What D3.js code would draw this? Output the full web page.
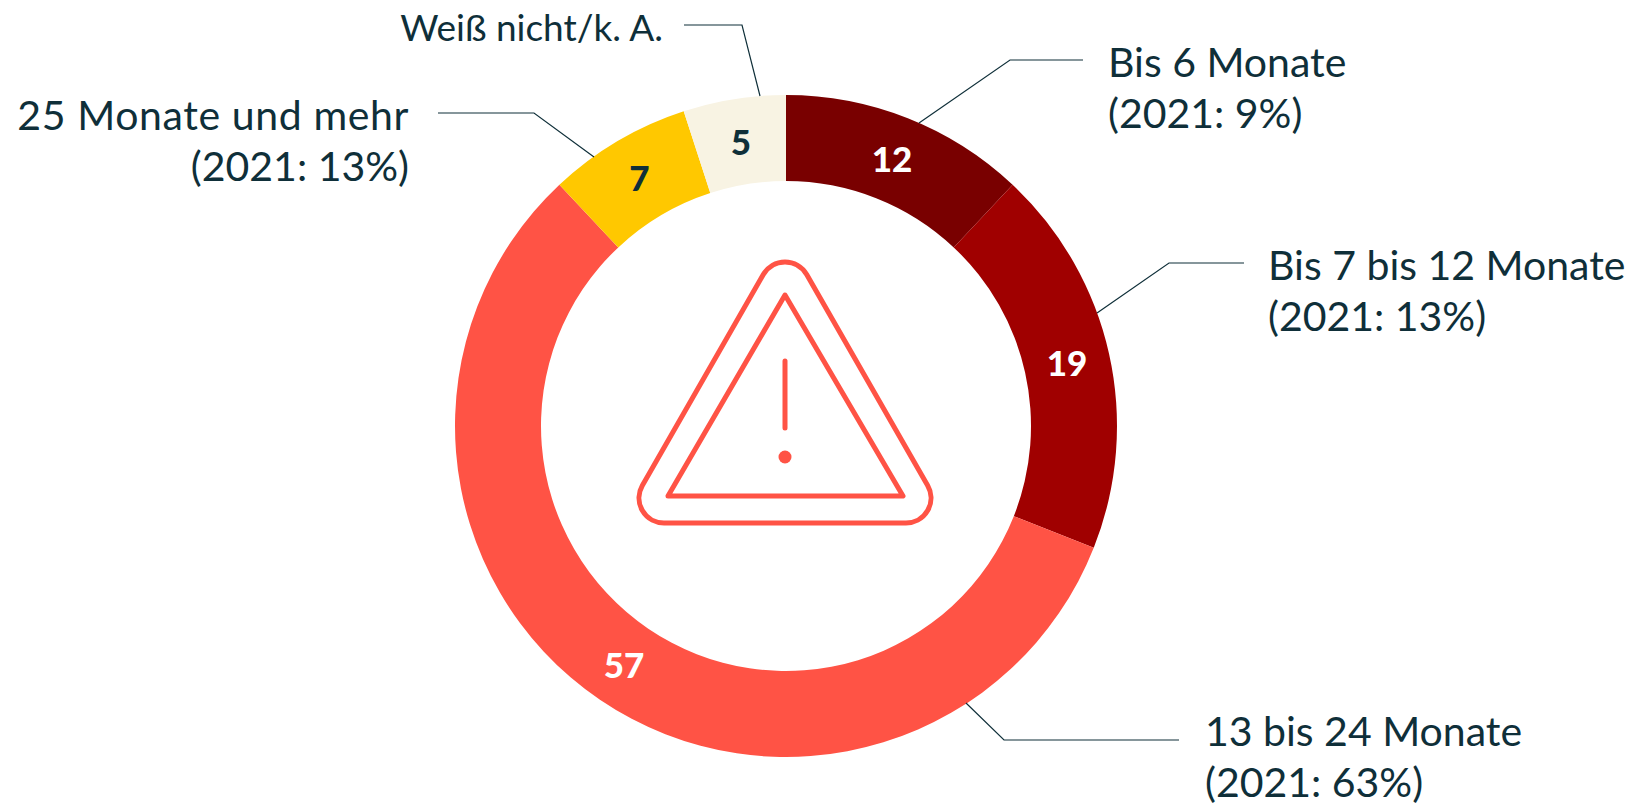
<!DOCTYPE html>
<html>
<head>
<meta charset="utf-8">
<script src="https://cdn.jsdelivr.net/npm/d3@7"></script>
<style>
	html, body { margin: 0; padding: 0; background: #fff; }
	svg { display: block; }
	text { font-family: Lato, "Noto Sans", sans-serif; }
</style>
</head>
<body>
<svg id="chart" width="1632" height="805"></svg>
<script>
// chart values, clockwise from the top
var categories = ["Bis 6 Monate", "Bis 7 bis 12 Monate", "13 bis 24 Monate", "25 Monate und mehr", "Weiß nicht/k. A."];
var values = [12, 19, 57, 7, 5];
var previous = ["(2021: 9%)", "(2021: 13%)", "(2021: 63%)", "(2021: 13%)", ""];
var colors = ["#790000", "#a00000", "#ff5345", "#ffc800", "#f8f3e3"];
var valueColors = ["#fff", "#fff", "#fff", "#0f2f39", "#0f2f39"];

var inkColor = "#0f2f39";
var iconColor = "#ff5345";

var svg = d3.select("#chart");
var cx = 786, cy = 426;
var outerRadius = 331, innerRadius = 245;

var ring = svg.append("g").attr("transform", "translate(" + cx + "," + cy + ")");

var pie = d3.pie().sort(null).value(function (d) { return d; });
var arc = d3.arc().innerRadius(innerRadius).outerRadius(outerRadius);
var slices = pie(values);

ring.selectAll("path.slice")
	.data(slices)
	.enter().append("path")
	.attr("class", "slice")
	.attr("d", arc)
	.style("fill", function (d, i) { return colors[i]; });

ring.selectAll("text.value")
	.data(slices)
	.enter().append("text")
	.attr("class", "value")
	.attr("transform", function (d) { return "translate(" + arc.centroid(d) + ")"; })
	.attr("text-anchor", "middle")
	.attr("dy", "0.38em")
	.style("font-size", "35px")
	.style("font-weight", 900)
	.style("fill", function (d, i) { return valueColors[i]; })
	.text(function (d) { return d.value; });

// leader lines and label placement, one entry per category
var labelLayout = [
	{ start: [919, 123], elbow: [1010, 60], end: [1083, 60], x: 1108, y: 77, anchor: "start", size: 41, tracking: 0 },
	{ start: [1097, 313], elbow: [1169, 263], end: [1244, 263], x: 1268, y: 280, anchor: "start", size: 41, tracking: 0 },
	{ start: [966, 703], elbow: [1004, 740], end: [1179, 740], x: 1205, y: 746, anchor: "start", size: 41, tracking: 0 },
	{ start: [594, 157], elbow: [534, 113], end: [438, 113], x: 409, y: 130, anchor: "end", size: 41, tracking: 0.6 },
	{ start: [760, 96], elbow: [742, 25], end: [684, 25], x: 663, y: 41, anchor: "end", size: 37, tracking: 0 }
];

var leader = d3.line();

svg.selectAll("path.leader")
	.data(labelLayout)
	.enter().append("path")
	.attr("class", "leader")
	.attr("d", function (d) { return leader([d.start, d.elbow, d.end]); })
	.style("fill", "none")
	.style("stroke", inkColor)
	.style("stroke-width", 1.2);

var labels = svg.selectAll("text.label")
	.data(labelLayout)
	.enter().append("text")
	.attr("class", "label")
	.attr("text-anchor", function (d) { return d.anchor; })
	.style("font-size", function (d) { return d.size + "px"; })
	.style("fill", inkColor);

labels.append("tspan")
	.attr("x", function (d) { return d.x; })
	.attr("y", function (d) { return d.y; })
	.style("letter-spacing", function (d) { return d.tracking + "px"; })
	.text(function (d, i) { return categories[i]; });

labels.append("tspan")
	.attr("x", function (d) { return d.x; })
	.attr("y", function (d) { return d.y + 51; })
	.text(function (d, i) { return previous[i]; });

// warning sign in the middle of the ring
var icon = svg.append("g")
	.style("fill", "none")
	.style("stroke", iconColor)
	.style("stroke-width", 5)
	.style("stroke-linecap", "round")
	.style("stroke-linejoin", "round");

icon.append("path")
	.attr("d", "M763.3,274.5 A25,25 0 0 1 806.7,274.5 L927.65,485.5 A25,25 0 0 1 906,523 L664,523 A25,25 0 0 1 642.35,485.5 Z");
icon.append("path")
	.attr("d", "M785,295 L903,496 L668,496 Z");
icon.append("line")
	.attr("x1", 785).attr("y1", 361)
	.attr("x2", 785).attr("y2", 428);
svg.append("circle")
	.attr("cx", 785).attr("cy", 457).attr("r", 6.5)
	.style("fill", iconColor);
</script>
</body>
</html>
